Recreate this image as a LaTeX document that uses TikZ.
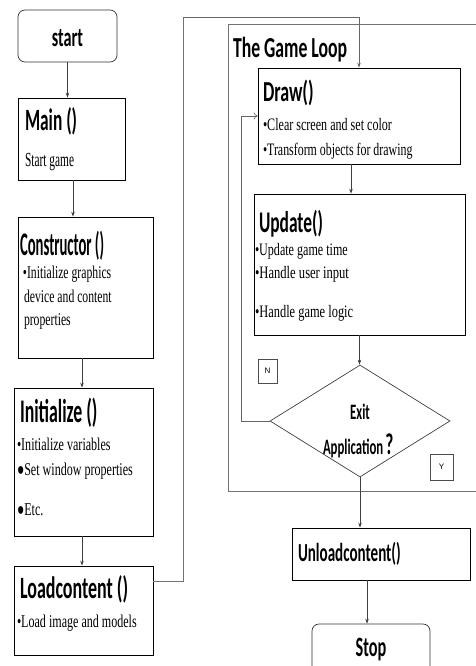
\documentclass[tikz,border=0pt]{standalone}
\usepackage{graphicx}
\usepackage{fontspec}
\setmainfont{Liberation Serif}
\newfontfamily\ttlfont{Carlito}
\newfontfamily\smallsans{Liberation Sans}
\usetikzlibrary{arrows.meta,shapes.geometric}
\newcommand{\hd}[3][0.58]{\scalebox{#1}[1]{\fontsize{#2}{#2}\selectfont\ttlfont\bfseries #3}}
\newcommand{\bd}[3][0.65]{\scalebox{#1}[1]{\fontsize{#2}{#2}\selectfont #3}}
\tikzset{
  box/.style={draw=black, line width=0.7pt, inner sep=0pt},
  rbox/.style={box, rounded corners=7pt, draw=black!80},
  arr/.style={draw=black!75, line width=0.6pt, -{Stealth[length=5pt,width=3.5pt]}},
  looparr/.style={draw=black!60, line width=0.6pt, -{To[length=4pt,width=7pt]}},
  link/.style={draw=black!55, line width=0.8pt},
  frame/.style={draw=black!55, line width=1pt},
  txt/.style={anchor=base west, inner sep=0pt, outer sep=0pt},
  tag/.style={draw=black!70, line width=0.5pt, inner sep=0pt, font=\smallsans\fontsize{8}{8}\selectfont}
}
\begin{document}
\begin{tikzpicture}[x=1pt,y=-1pt]
\useasboundingbox (0,0) rectangle (476,666);
\clip (0,0) rectangle (476,666);
\fill[white] (0,0) rectangle (476,666);

% game loop frame
\draw[frame] (480,25) -- (228,25) -- (228,491) -- (480,491);

% left column boxes
\node[rbox, minimum width=99pt, minimum height=52pt] (start) at (67.5,36) {};
\node[box, minimum width=107pt, minimum height=82pt] (main) at (71.5,139) {};
\node[box, minimum width=135pt, minimum height=141pt] (cons) at (85.5,287.5) {};
\node[box, minimum width=139pt, minimum height=148pt] (init) at (83.5,462) {};
\node[box, minimum width=139pt, minimum height=89pt] (load) at (83.5,610.5) {};

% right column
\node[box, minimum width=202pt, minimum height=96pt] (draw) at (359,116) {};
\node[box, minimum width=211pt, minimum height=141pt] (upd) at (359.5,264.5) {};
\node[draw=black!75, line width=0.7pt, diamond, inner sep=0pt, aspect=1.607, minimum width=180pt, minimum height=112pt] (dia) at (360,421) {};
\node[box, minimum width=178pt, minimum height=52pt] (unl) at (381,554) {};
\node[rbox, minimum width=118pt, minimum height=70pt] (stop) at (371,659) {};

\node[tag, minimum width=19pt, minimum height=24pt] (ntag) at (267.5,371) {N};
\node[tag, minimum width=23pt, minimum height=26pt] (ytag) at (441.5,467) {Y};

% texts
\node[inner sep=0pt] (tstart) at (67.5,38) {\hd[0.6]{27}{start}};
\node[txt] (tmain) at (25,130) {\hd[0.56]{31}{Main ()}};
\node[txt] (tmain1) at (25,166) {\bd[0.57]{20}{Start game}};
\node[txt] (tcons) at (20,255) {\hd[0.445]{33}{Constructor ()}};
\node[txt] (tcons1) at (23,278) {\bd{18}{•Initialize graphics}};
\node[txt] (tcons2) at (24,302) {\bd{18}{device and content}};
\node[txt] (tcons3) at (24,325) {\bd{18}{properties}};
\node[txt] (tinit) at (20,422) {\hd[0.54]{33}{Initialize ()}};
\node[txt] (tinit1) at (17,450) {\bd[0.67]{18}{•Initialize variables}};
\node[txt] (tinit2) at (17,475) {\bd[0.67]{18}{●Set window properties}};
\node[txt] (tinit3) at (17,515) {\bd[0.67]{18}{●Etc.}};
\node[txt] (tload) at (20,598) {\hd[0.58]{31}{Loadcontent ()}};
\node[txt] (tload1) at (17,627) {\bd[0.67]{18}{•Load image and models}};

\node[txt] (tloop) at (233,58) {\hd[0.61]{29}{The Game Loop}};
\node[txt] (tdraw) at (263,102) {\hd[0.62]{29}{Draw()}};
\node[txt] (tdraw1) at (263,130) {\bd[0.69]{17.5}{•Clear screen and set color}};
\node[txt] (tdraw2) at (263,155) {\bd[0.68]{17.5}{•Transform objects for drawing}};
\node[txt] (tupd) at (259,232) {\hd[0.58]{30}{Update()}};
\node[txt] (tupd1) at (255,255) {\bd[0.69]{17.5}{•Update game time}};
\node[txt] (tupd2) at (255,278) {\bd[0.72]{17.5}{•Handle user input}};
\node[txt] (tupd3) at (255,317) {\bd[0.71]{17.5}{•Handle game logic}};
\node[anchor=base, inner sep=0pt] (texit) at (360,419) {\hd{22}{Exit}};
\node[txt] (tapp) at (323,454) {\hd{22}{Application}\hspace{2pt}\hd{30}{?}};
\node[txt] (tunl) at (298,561) {\hd{26}{Unloadcontent()}};
\node[anchor=base, inner sep=0pt] (tstop) at (371,656) {\hd{28}{Stop}};

% connectors
\draw[arr] (start.south) -- (start.south |- main.north);
\draw[arr] ([xshift=1.5pt]main.south) -- ([xshift=1.5pt]main.south |- cons.north);
\draw[arr] ([xshift=-3.5pt]cons.south) -- ([xshift=-3.5pt]cons.south |- init.north);
\draw[arr] ([xshift=-1.5pt]init.south) -- ([xshift=-1.5pt]init.south |- load.north);
\coordinate (lk) at (183,17);
\draw[link] ([yshift=29.5pt]load.east) -| (lk);
\draw[arr, draw=black!60] (lk) -| (draw.north);
\draw[arr] ([xshift=-8pt]draw.south) -- ([xshift=-8pt]draw.south |- upd.north);
\draw[arr] (upd.south) -- (upd.south |- dia.north);
\draw[arr] (dia.south) -- (dia.south |- unl.north);
\draw[arr] ([xshift=-14pt]unl.south) -- ([xshift=-14pt]unl.south |- stop.north);
\coordinate (lp) at (241,0);
\draw[looparr] (dia.west) -- (dia.west -| lp) |- (draw.west);
\end{tikzpicture}
\end{document}
